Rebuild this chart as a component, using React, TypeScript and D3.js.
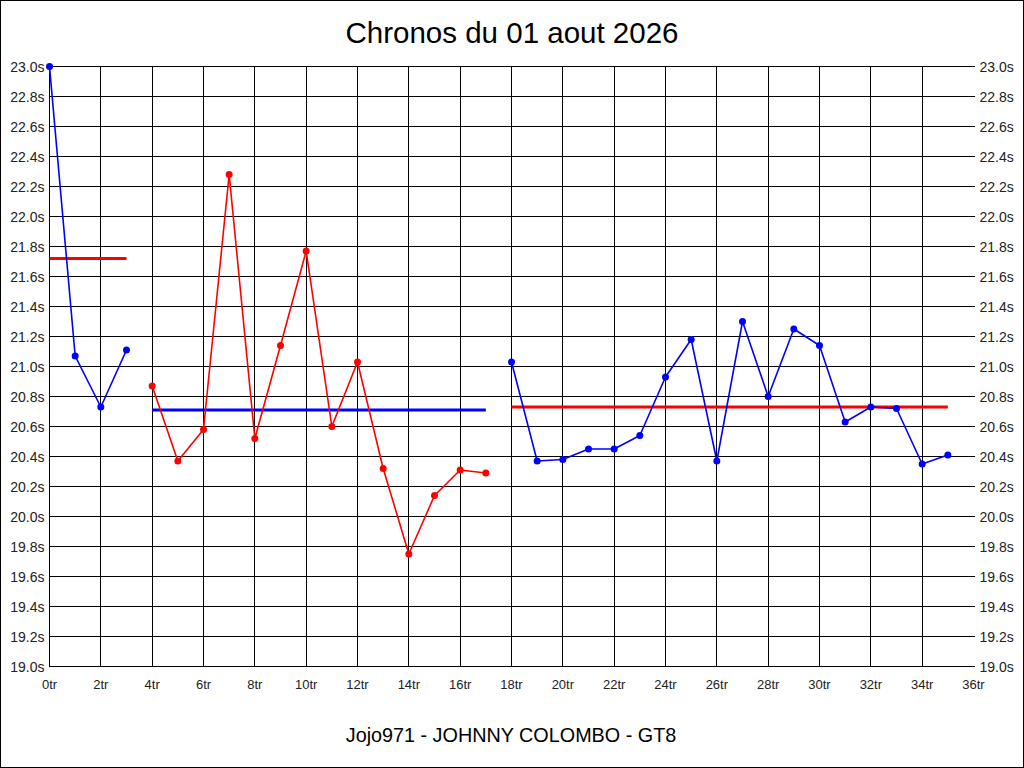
import { useRef, useEffect } from 'react';
import * as d3 from 'd3';

// lap times (seconds) per stint
const stintStarts = [0, 4, 18];
const stint1Times = [23.0, 21.07, 20.73, 21.11];
const stint2Times = [20.87, 20.37, 20.58, 22.28, 20.52, 21.14, 21.77, 20.6, 21.03, 20.32, 19.75, 20.14, 20.31, 20.29];
const stint3Times = [21.03, 20.37, 20.38, 20.45, 20.45, 20.54, 20.93, 21.18, 20.37, 21.3, 20.8, 21.25, 21.14, 20.63, 20.73, 20.72, 20.35, 20.41];
const stintAverages = [21.72, 20.71, 20.73];
const stintColors = ['#0000ff', '#ff0000', '#0000ff'];
const averageColors = ['#ff0000', '#0000ff', '#ff0000'];

const xTicks = d3.range(0, 37, 2);
const xGrid = d3.range(0, 35, 2);
const yTicks = d3.range(0, 21).map((i) => 19 + i * 0.2);

const title = 'Chronos du 01 aout 2026';
const footer = 'Jojo971 - JOHNNY COLOMBO - GT8';

const W = 1024;
const H = 768;
const FONT = '"Liberation Sans", Arial, sans-serif';

export default function App() {
  const svgRef = useRef<SVGSVGElement>(null);

  useEffect(() => {
    document.body.style.margin = '0';
    const svg = d3.select(svgRef.current);
    svg.selectAll('*').remove();

    const x = d3.scaleLinear().domain([0, 36]).range([49.5, 973.5]);
    const y = d3.scaleLinear().domain([19, 23]).range([666.5, 66.5]);

    svg.append('rect').attr('width', W).attr('height', H).attr('fill', '#fff');
    svg.append('rect').attr('x', 0.5).attr('y', 0.5).attr('width', W - 1).attr('height', H - 1)
      .attr('fill', 'none').attr('stroke', '#000').attr('stroke-width', 1);

    const grid = svg.append('g').attr('stroke', '#000').attr('stroke-width', 1).attr('shape-rendering', 'crispEdges');
    yTicks.forEach((t) => {
      grid.append('line').attr('x1', x(0)).attr('x2', x(36) + 1).attr('y1', y(t)).attr('y2', y(t));
    });
    xGrid.forEach((t) => {
      grid.append('line').attr('x1', x(t)).attr('x2', x(t)).attr('y1', y(23)).attr('y2', y(19));
    });

    // axis labels
    const labels = svg.append('g').attr('fill', '#222').attr('font-family', FONT);
    yTicks.forEach((t) => {
      labels.append('text').attr('x', x(0) - 5).attr('y', y(t)).attr('dy', '0.36em')
        .attr('text-anchor', 'end').attr('font-size', '14px').text(`${t.toFixed(1)}s`);
      labels.append('text').attr('x', x(36) + 6).attr('y', y(t)).attr('dy', '0.36em')
        .attr('text-anchor', 'start').attr('font-size', '14px').text(`${t.toFixed(1)}s`);
    });
    xTicks.forEach((t) => {
      labels.append('text').attr('x', x(t)).attr('y', 689)
        .attr('text-anchor', 'middle').attr('font-size', '13px').text(`${t}tr`);
    });

    // stints
    const stints = [stint1Times, stint2Times, stint3Times];
    const line = d3.line<[number, number]>().x((d) => x(d[0])).y((d) => y(d[1]));
    stints.forEach((times, i) => {
      const pts: [number, number][] = times.map((v, j) => [stintStarts[i] + j, v]);
      const last = stintStarts[i] + times.length - 1;

      svg.append('line').attr('x1', x(stintStarts[i])).attr('x2', x(last))
        .attr('y1', y(stintAverages[i])).attr('y2', y(stintAverages[i]))
        .attr('stroke', averageColors[i]).attr('stroke-width', 3);

      svg.append('path').attr('d', line(pts)).attr('fill', 'none')
        .attr('stroke', stintColors[i]).attr('stroke-width', 1.6).attr('stroke-linejoin', 'round');

      svg.append('g').selectAll('circle').data(pts).join('circle')
        .attr('cx', (d) => x(d[0])).attr('cy', (d) => y(d[1])).attr('r', 3.5)
        .attr('fill', stintColors[i]);
    });

    svg.append('text').attr('x', 512).attr('y', 43).attr('text-anchor', 'middle')
      .attr('font-family', FONT).attr('font-size', '29.5px').attr('fill', '#000').text(title);
    svg.append('text').attr('x', 511).attr('y', 742).attr('text-anchor', 'middle')
      .attr('font-family', FONT).attr('font-size', '19.8px').attr('fill', '#000').text(footer);
  }, []);

  return <svg ref={svgRef} width={W} height={H} viewBox={`0 0 ${W} ${H}`} style={{ display: 'block' }} />;
}
